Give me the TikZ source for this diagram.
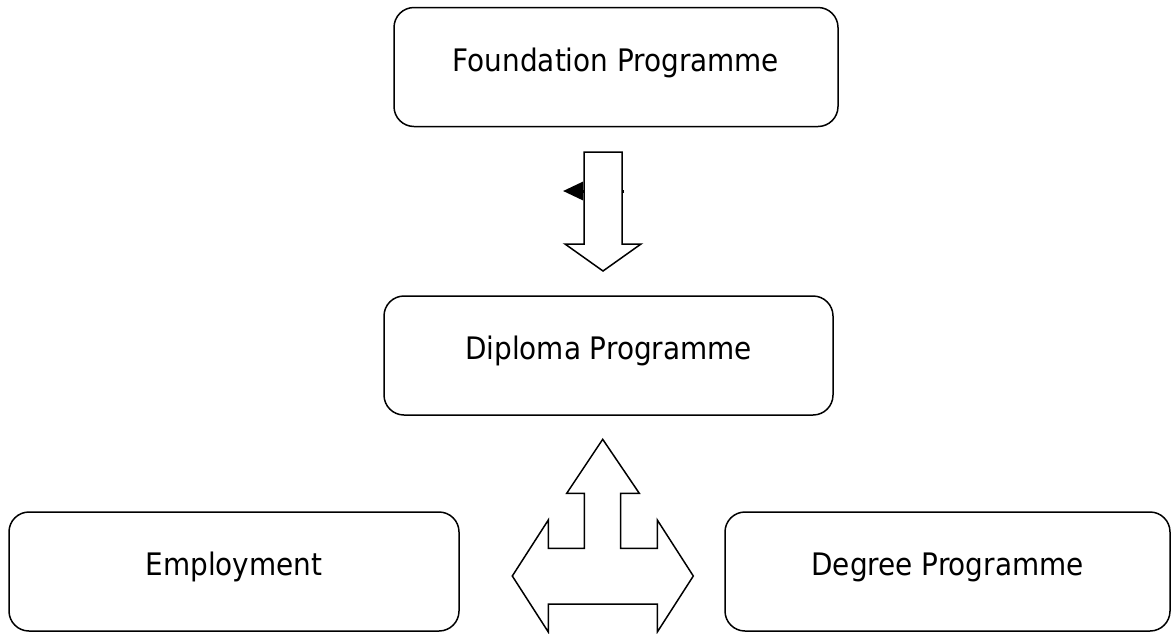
\documentclass[tikz,border=0pt]{standalone}
\usepackage{fontspec}
\setmainfont{DejaVu Sans Condensed}
\usetikzlibrary{arrows.meta}
\tikzset{
    prog/.style={
        draw, rounded corners=10pt,
        line width=0.75pt,
        minimum height=59.5pt,
        align=center, inner sep=0pt,
        text height=11.8pt, text depth=7.5pt,
        font=\fontsize{15.5}{18}\selectfont
    },
    hollow/.style={draw, fill=white, line width=0.75pt, line join=miter},
    pointer/.style={-{Triangle[length=10pt,width=9pt]}, line width=1.5pt}
}
\begin{document}
\begin{tikzpicture}[x=0.5pt, y=-0.5pt]

    \useasboundingbox (0,0) rectangle (1176,633);

    % Boxes
    \node[prog, minimum width=222pt] (found) at (616,67) {Foundation Programme};
    \node[prog, minimum width=224.5pt] (dipl) at (608.5,355.5) {Diploma Programme};
    \node[prog, minimum width=225pt] (empl) at (234,571.5) {Employment};
    \node[prog, minimum width=222.5pt] (degr) at (947.5,571.5) {Degree Programme};

    % Stray pointer, mostly hidden behind the down arrow
    \coordinate (ptrstart) at (624,191);
    \coordinate (ptrend) at (563,191);
    \draw[pointer] (ptrstart) -- (ptrend);

    % Down arrow
    \draw[hollow] (584,152) -- (622,152) -- (622,244) -- (641,244)
        -- (603,271) -- (565,244) -- (584,244) -- cycle;

    % Three-way arrow
    \draw[hollow] (602.7,439.3) -- (639.3,493.3) -- (620.7,493.3) -- (620.7,548.3)
        -- (657.3,548.3) -- (657.3,520) -- (693.3,576) -- (657.3,632)
        -- (657.3,604) -- (548.3,604) -- (548.3,632) -- (512.3,576)
        -- (548.3,520) -- (548.3,548.3) -- (584.3,548.3) -- (584.3,493.3)
        -- (566.7,493.3) -- cycle;

\end{tikzpicture}
\end{document}
